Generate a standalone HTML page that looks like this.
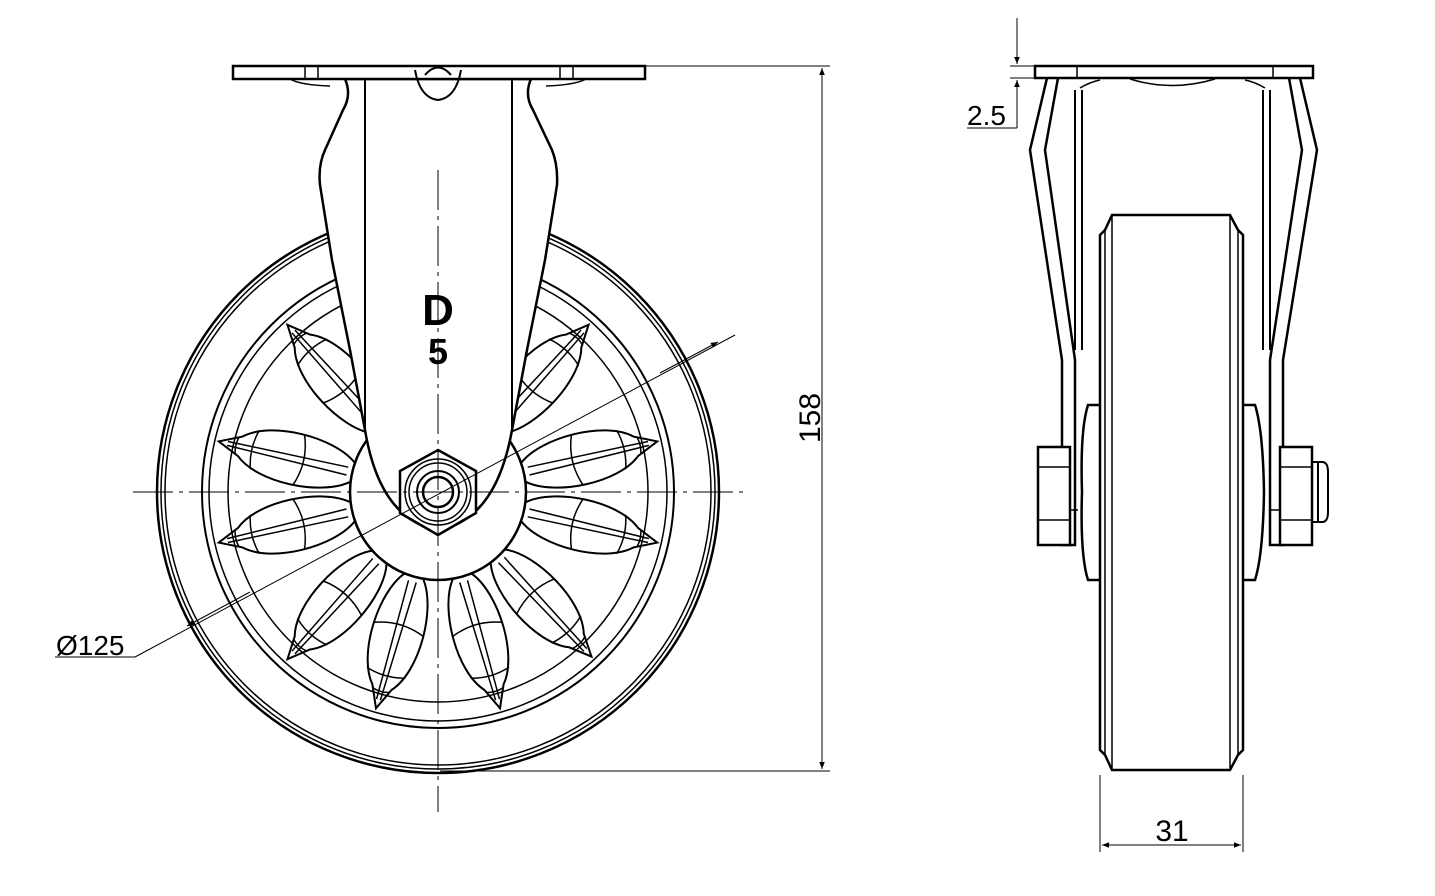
<!DOCTYPE html>
<html><head><meta charset="utf-8"><style>
html,body{margin:0;padding:0;background:#fff;}
svg{display:block;}
text{font-family:"Liberation Sans",sans-serif;fill:#000;}
</style></head><body>
<svg width="1435" height="896" viewBox="0 0 1435 896" xmlns="http://www.w3.org/2000/svg">
<defs>
<marker id="ar" viewBox="0 0 10 10" refX="10" refY="5" markerWidth="16" markerHeight="7" markerUnits="userSpaceOnUse" orient="auto-start-reverse"><path d="M0,1 L10,5 L0,9 z" fill="#000"/></marker>
<g id="spoke">
<path d="M0,-10 C25,-30 90,-32 115,-10 L137,0 L115,10 C90,32 25,30 0,10" fill="none" stroke="#000" stroke-width="2"/>
<path d="M5,-4 L128,-2 M5,4 L128,2" fill="none" stroke="#000" stroke-width="1.5"/>
<path d="M55,-26 Q45,0 55,26 M100,-20 Q106,0 100,20 M118,-9 Q121,0 118,9" fill="none" stroke="#000" stroke-width="1.5"/>
</g>
</defs>
<g fill="none" stroke="#000">
<circle cx="438" cy="492" r="281" stroke-width="2.5"/>
<circle cx="438" cy="492" r="277" stroke-width="1.5"/>
<circle cx="438" cy="492" r="273" stroke-width="1.5"/>
<circle cx="438" cy="492" r="236" stroke-width="2"/>
<circle cx="438" cy="492" r="229" stroke-width="1.5"/>
<circle cx="438" cy="492" r="210" stroke-width="1.5"/>
<g transform="translate(438,492)">
<use href="#spoke" transform="rotate(193) translate(88,0)"/>
<use href="#spoke" transform="rotate(167) translate(88,0)"/>
<use href="#spoke" transform="rotate(-13) translate(88,0)"/>
<use href="#spoke" transform="rotate(13) translate(88,0)"/>
<use href="#spoke" transform="rotate(-132) translate(88,0)"/>
<use href="#spoke" transform="rotate(-48) translate(88,0)"/>
<use href="#spoke" transform="rotate(132) translate(88,0)"/>
<use href="#spoke" transform="rotate(47) translate(88,0)"/>
<use href="#spoke" transform="rotate(106) translate(88,0)"/>
<use href="#spoke" transform="rotate(74) translate(88,0)"/>
</g>
<circle cx="438" cy="492" r="88" fill="#fff" stroke-width="2.5"/>
<path d="M345,79 Q352,95 343,110 L325,150 Q318,165 320,185 L332,260 L350,350 L365,430 Q380,520 438,530 Q496,520 512,430 L527,350 L545,260 L557,185 Q558,165 552,150 L533,110 Q524,95 531,79 Z" fill="#fff" stroke-width="2.5"/>
<path d="M365,79 L365,430 M512,79 L512,430" stroke-width="2"/>
<rect x="233" y="66" width="412" height="13" fill="#fff" stroke-width="2.5"/>
<path d="M290,79 Q300,85 330,86 M546,86 Q575,85 586,79 M305,66 L305,79 M318,66 L318,79 M560,66 L560,79 M573,66 L573,79" stroke-width="1.5"/>
<path d="M415,70 Q420,98 438,100 Q456,98 461,70" stroke-width="2"/>
<path d="M425,75 Q438,60 451,75" stroke-width="2"/>
<polygon points="438,450 476,471 476,513 438,535 400,513 400,471" fill="#fff" stroke-width="2.5"/>
<circle cx="438" cy="492" r="33" stroke-width="1.5"/>
<circle cx="438" cy="492" r="29" stroke-width="1.5"/>
<circle cx="438" cy="492" r="21" stroke-width="2"/>
<circle cx="438" cy="492" r="15" stroke-width="2.5"/>
<path d="M133,492 H745" stroke-width="1" stroke-dasharray="40,6,4,6"/>
<path d="M438,170 V812" stroke-width="1" stroke-dasharray="40,6,4,6"/>
<path d="M645,66 H830 M440,771 H830" stroke-width="1"/>
<path d="M822,68 V769" stroke-width="1" marker-start="url(#ar)" marker-end="url(#ar)"/>
<path d="M55,657 H135" stroke-width="1"/>
<path d="M135,657 L735,335" stroke-width="1"/>
<path d="M250,592 L187,626" stroke-width="1" marker-end="url(#ar)"/>
<path d="M660,373 L718,342" stroke-width="1" marker-end="url(#ar)"/>
</g>
<text x="438" y="325" font-size="44" font-weight="bold" text-anchor="middle" font-family="Liberation Serif,serif">D</text>
<text x="438" y="364" font-size="36" font-weight="bold" text-anchor="middle">5</text>
<text x="56" y="655" font-size="28">Ø125</text>
<text transform="translate(820,418) rotate(-90)" font-size="30" text-anchor="middle">158</text>

<g fill="none" stroke="#000">
<path d="M1047,78 L1030,150 L1062,360 L1062,545 L1075,545 L1075,360 L1045,150 L1058,78" stroke-width="2.5"/>
<path d="M1300,78 L1317,150 L1283,360 L1283,545 L1270,545 L1270,360 L1302,150 L1289,78" stroke-width="2.5"/>
<path d="M1075,90 L1075,350 M1082,90 L1082,350 M1270,90 L1270,350 M1263,90 L1263,350" stroke-width="2"/>
<path d="M1080,88 Q1090,82 1100,80 M1265,88 Q1255,82 1245,80 M1130,79 Q1172,92 1215,79" stroke-width="1.5"/>
<path d="M1100,405 L1088,405 Q1080,430 1082,492 Q1080,555 1088,580 L1100,580" stroke-width="2.5"/>
<path d="M1243,405 L1255,405 Q1263,430 1264,492 Q1263,555 1255,580 L1243,580" stroke-width="2.5"/>
<path d="M1112,215 L1230,215 L1238,230 L1243,235 L1243,750 L1238,755 L1230,770 L1112,770 L1105,755 L1100,750 L1100,235 L1105,230 Z" fill="#fff" stroke-width="2.5"/>
<path d="M1105,230 V755 M1112,215 V770 M1238,230 V755 M1230,215 V770" stroke-width="1.5"/>
<rect x="1038" y="447" width="32" height="98" fill="#fff" stroke-width="2.5"/>
<path d="M1038,467 H1070 M1038,520 H1070 M1070,510 H1078" stroke-width="1.5"/>
<rect x="1280" y="447" width="32" height="98" fill="#fff" stroke-width="2.5"/>
<path d="M1280,467 H1312 M1280,520 H1312 M1270,510 H1280" stroke-width="1.5"/>
<path d="M1312,462 H1322 Q1328,462 1328,472 V512 Q1328,522 1322,522 H1312 M1318,462 V522" stroke-width="2"/>
<rect x="1035" y="66" width="278" height="12" fill="#fff" stroke-width="2.5"/>
<path d="M1077,66 V78 M1273,66 V78" stroke-width="1.5"/>
<path d="M1010,66 H1035 M1010,78 H1035" stroke-width="1"/>
<path d="M1017,18 V64" stroke-width="1" marker-end="url(#ar)"/>
<path d="M1017,128 V80" stroke-width="1" marker-end="url(#ar)"/>
<path d="M967,128 H1017" stroke-width="1"/>
<path d="M1100,775 V852 M1243,775 V852" stroke-width="1"/>
<path d="M1102,845 H1241" stroke-width="1" marker-start="url(#ar)" marker-end="url(#ar)"/>
</g>
<text x="967" y="125" font-size="28">2.5</text>
<text x="1172" y="841" font-size="30" text-anchor="middle">31</text>
</svg>
</body></html>
